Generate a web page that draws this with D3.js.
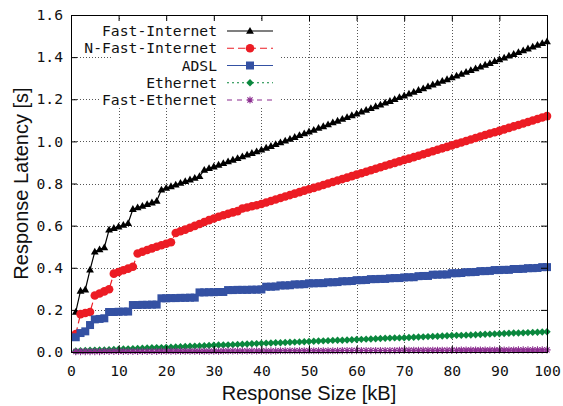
<!DOCTYPE html>
<html>
<head>
<meta charset="utf-8">
<script src="https://cdn.jsdelivr.net/npm/d3@7"></script>
<style>
  html, body { margin: 0; padding: 0; background: #fff; }
  svg { display: block; }
</style>
</head>
<body>
<script>
// Response size in kB (x values shared by every series)
const sizes = [
  1,2,3,4,5,6,7,8,9,10,11,12,13,14,15,16,17,18,19,20,
  21,22,23,24,25,26,27,28,29,30,31,32,33,34,35,36,37,38,39,40,
  41,42,43,44,45,46,47,48,49,50,51,52,53,54,55,56,57,58,59,60,
  61,62,63,64,65,66,67,68,69,70,71,72,73,74,75,76,77,78,79,80,
  81,82,83,84,85,86,87,88,89,90,91,92,93,94,95,96,97,98,99,100
];

// Response latency in seconds for each access network
const fastInternet = [
  0.190,0.290,0.296,0.390,0.476,0.486,0.496,0.580,0.588,0.595,
  0.603,0.611,0.678,0.686,0.693,0.701,0.709,0.717,0.770,0.778,
  0.786,0.794,0.802,0.810,0.818,0.826,0.834,0.864,0.872,0.880,
  0.888,0.896,0.904,0.912,0.920,0.928,0.936,0.944,0.952,0.960,
  0.969,0.977,0.986,0.994,1.003,1.011,1.020,1.029,1.037,1.046,
  1.054,1.063,1.071,1.080,1.089,1.097,1.106,1.114,1.123,1.131,
  1.140,1.149,1.157,1.166,1.174,1.183,1.191,1.200,1.209,1.217,
  1.226,1.234,1.243,1.251,1.260,1.269,1.277,1.286,1.294,1.303,
  1.311,1.320,1.329,1.337,1.346,1.354,1.363,1.371,1.380,1.389,
  1.397,1.406,1.414,1.423,1.431,1.440,1.449,1.457,1.466,1.474
];

const nFastInternet = [
  0.085,0.180,0.185,0.190,0.268,0.278,0.288,0.298,0.372,0.380,
  0.388,0.396,0.405,0.468,0.476,0.484,0.492,0.500,0.507,0.514,
  0.521,0.565,0.573,0.581,0.590,0.599,0.608,0.617,0.626,0.634,
  0.642,0.649,0.656,0.663,0.669,0.681,0.686,0.692,0.697,0.703,
  0.710,0.717,0.724,0.731,0.738,0.745,0.752,0.759,0.766,0.773,
  0.779,0.786,0.793,0.800,0.807,0.814,0.821,0.828,0.835,0.842,
  0.849,0.856,0.863,0.870,0.877,0.884,0.891,0.898,0.905,0.912,
  0.918,0.925,0.932,0.939,0.946,0.953,0.960,0.967,0.974,0.981,
  0.988,0.995,1.002,1.009,1.016,1.023,1.030,1.037,1.043,1.050,
  1.057,1.064,1.071,1.078,1.085,1.092,1.099,1.106,1.113,1.120
];

const adsl = [
  0.070,0.090,0.098,0.128,0.155,0.157,0.160,0.190,0.190,0.191,
  0.192,0.192,0.223,0.223,0.224,0.224,0.225,0.225,0.255,0.255,
  0.256,0.256,0.257,0.257,0.258,0.258,0.283,0.283,0.284,0.284,
  0.285,0.285,0.294,0.294,0.295,0.295,0.295,0.296,0.296,0.297,
  0.310,0.310,0.311,0.316,0.316,0.317,0.321,0.321,0.322,0.326,
  0.326,0.327,0.327,0.331,0.331,0.332,0.336,0.336,0.337,0.341,
  0.341,0.342,0.346,0.346,0.347,0.347,0.350,0.351,0.351,0.354,
  0.355,0.355,0.360,0.361,0.361,0.367,0.367,0.368,0.368,0.374,
  0.374,0.375,0.379,0.379,0.380,0.384,0.384,0.385,0.389,0.389,
  0.390,0.390,0.394,0.394,0.395,0.398,0.398,0.399,0.403,0.403
];

const ethernet = [
  0.005,0.006,0.007,0.008,0.009,0.010,0.010,0.011,0.012,0.013,
  0.014,0.015,0.016,0.017,0.018,0.019,0.020,0.021,0.021,0.022,
  0.023,0.024,0.025,0.026,0.027,0.028,0.029,0.030,0.031,0.032,
  0.033,0.033,0.034,0.035,0.036,0.037,0.038,0.039,0.040,0.041,
  0.042,0.043,0.044,0.044,0.045,0.046,0.047,0.048,0.049,0.050,
  0.051,0.052,0.053,0.054,0.055,0.056,0.056,0.057,0.058,0.059,
  0.060,0.061,0.062,0.063,0.064,0.065,0.066,0.067,0.067,0.068,
  0.069,0.070,0.071,0.072,0.073,0.074,0.075,0.076,0.077,0.078,
  0.079,0.079,0.080,0.081,0.082,0.083,0.084,0.085,0.086,0.087,
  0.088,0.089,0.090,0.090,0.091,0.092,0.093,0.094,0.095,0.096
];

const fastEthernet = [
  0.002,0.002,0.002,0.002,0.002,0.002,0.003,0.003,0.003,0.003,
  0.003,0.003,0.003,0.003,0.003,0.003,0.003,0.003,0.004,0.004,
  0.004,0.004,0.004,0.004,0.004,0.004,0.004,0.004,0.004,0.004,
  0.004,0.005,0.005,0.005,0.005,0.005,0.005,0.005,0.005,0.005,
  0.005,0.005,0.005,0.006,0.006,0.006,0.006,0.006,0.006,0.006,
  0.006,0.006,0.006,0.006,0.006,0.006,0.007,0.007,0.007,0.007,
  0.007,0.007,0.007,0.007,0.007,0.007,0.007,0.007,0.008,0.008,
  0.008,0.008,0.008,0.008,0.008,0.008,0.008,0.008,0.008,0.008,
  0.008,0.009,0.009,0.009,0.009,0.009,0.009,0.009,0.009,0.009,
  0.009,0.009,0.009,0.010,0.010,0.010,0.010,0.010,0.010,0.010
];

const seriesNames = ["Fast-Internet", "N-Fast-Internet", "ADSL", "Ethernet", "Fast-Ethernet"];
const xTicks = [0, 10, 20, 30, 40, 50, 60, 70, 80, 90, 100];
const yTicks = [0, 0.2, 0.4, 0.6, 0.8, 1.0, 1.2, 1.4, 1.6];

// Drawing styles per series
const styles = [
  { color: "#000000", dash: null,   marker: "triangle", size: 3.9 },
  { color: "#ec1c24", dash: "7,4",  marker: "circle",   size: 4.3 },
  { color: "#3451a3", dash: null,   marker: "square",   size: 4.0 },
  { color: "#0a873d", dash: "2,3",  marker: "diamond",  size: 3.7 },
  { color: "#8b2c8f", dash: "5,5",  marker: "asterisk", size: 3.6 }
];

const series = [fastInternet, nFastInternet, adsl, ethernet, fastEthernet].map((vals, i) => ({
  name: seriesNames[i],
  points: sizes.map((s, j) => [s, vals[j]]),
  style: styles[i]
}));

const W = 563, H = 406;
const plot = { left: 71, right: 547, top: 15, bottom: 352 };

const x = d3.scaleLinear().domain([0, 100]).range([plot.left, plot.right]);
const y = d3.scaleLinear().domain([0, 1.6]).range([plot.bottom, plot.top]);

const svg = d3.select("body").append("svg").attr("width", W).attr("height", H);

const monoFont = "'DejaVu Sans Mono', monospace";
const sansFont = "'Liberation Sans', Arial, sans-serif";

// Dotted grid
const grid = svg.append("g").attr("stroke", "#555").attr("stroke-width", 1)
  .attr("stroke-dasharray", "1,2").attr("shape-rendering", "crispEdges");
grid.selectAll("line.gx").data(xTicks.slice(1, -1)).join("line")
  .attr("x1", d => Math.round(x(d)) + 0.5).attr("x2", d => Math.round(x(d)) + 0.5)
  .attr("y1", plot.top).attr("y2", plot.bottom);
grid.selectAll("line.gy").data(yTicks.slice(1, -1)).join("line")
  .attr("y1", d => Math.round(y(d)) + 0.5).attr("y2", d => Math.round(y(d)) + 0.5)
  .attr("x1", plot.left).attr("x2", plot.right);

// Opaque key background
const keyBg = svg.append("g").attr("fill", "#fff");
keyBg.append("rect").attr("x", 113).attr("y", 20).attr("width", 167).attr("height", 88);
keyBg.append("rect").attr("x", 100).attr("y", 91).attr("width", 14).attr("height", 17);

// Marker shapes
function markerPath(type, s) {
  switch (type) {
    case "triangle":
      return `M0,${-s * 1.05}L${s},${s * 0.7}L${-s},${s * 0.7}Z`;
    case "circle":
      return d3.arc()({ innerRadius: 0, outerRadius: s, startAngle: 0, endAngle: 2 * Math.PI });
    case "square":
      return `M${-s},${-s}H${s}V${s}H${-s}Z`;
    case "diamond":
      return `M0,${-s}L${s},0L0,${s}L${-s},0Z`;
    case "asterisk": {
      const d = s * 0.72;
      return `M${-s},0H${s}M0,${-s}V${s}M${-d},${-d}L${d},${d}M${-d},${d}L${d},${-d}`;
    }
  }
}

function drawMarker(sel, st) {
  const isStroke = st.marker === "asterisk";
  sel.attr("d", markerPath(st.marker, st.size))
    .attr("fill", isStroke ? "none" : st.color)
    .attr("stroke", isStroke ? st.color : "none")
    .attr("stroke-width", isStroke ? 1.1 : 0);
}

const line = d3.line().x(d => x(d[0])).y(d => y(d[1]));

// Series lines and points
const seriesG = svg.append("g");
series.forEach(s => {
  const g = seriesG.append("g");
  g.append("path").datum(s.points)
    .attr("d", line)
    .attr("fill", "none")
    .attr("stroke", s.style.color)
    .attr("stroke-width", 1.2)
    .attr("stroke-dasharray", s.style.dash);
  g.selectAll("path.pt").data(s.points).join("path")
    .attr("class", "pt")
    .attr("transform", d => `translate(${x(d[0])},${y(d[1])})`)
    .call(drawMarker, s.style);
});

// Axes with inward ticks on all four sides
function styleAxis(g) {
  g.select(".domain").remove();
  g.selectAll(".tick line").attr("stroke", "#000").attr("stroke-width", 1);
  g.selectAll(".tick text").attr("font-family", monoFont).attr("font-size", "14.7px").attr("fill", "#111");
}

svg.append("g").attr("transform", `translate(0,${plot.bottom})`)
  .call(d3.axisBottom(x).tickValues(xTicks).tickFormat(d3.format("d"))
    .tickSizeInner(-6).tickSizeOuter(0).tickPadding(14))
  .call(styleAxis);
svg.append("g").attr("transform", `translate(0,${plot.top})`)
  .call(d3.axisTop(x).tickValues(xTicks).tickFormat("").tickSizeInner(-6).tickSizeOuter(0))
  .call(styleAxis);
svg.append("g").attr("transform", `translate(${plot.left},0)`)
  .call(d3.axisLeft(y).tickValues(yTicks).tickFormat(d3.format(".1f"))
    .tickSizeInner(-6).tickSizeOuter(0).tickPadding(8))
  .call(styleAxis);
svg.append("g").attr("transform", `translate(${plot.right},0)`)
  .call(d3.axisRight(y).tickValues(yTicks).tickFormat("").tickSizeInner(-6).tickSizeOuter(0))
  .call(styleAxis);

// Plot border
svg.append("rect")
  .attr("x", plot.left + 0.5).attr("y", plot.top + 0.5)
  .attr("width", plot.right - plot.left).attr("height", plot.bottom - plot.top)
  .attr("fill", "none").attr("stroke", "#000").attr("stroke-width", 1.1)
  .attr("shape-rendering", "crispEdges");

// Axis titles
svg.append("text")
  .attr("x", (plot.left + plot.right) / 2).attr("y", 400)
  .attr("text-anchor", "middle")
  .attr("font-family", sansFont).attr("font-size", "20px").attr("fill", "#111")
  .text("Response Size [kB]");
svg.append("text")
  .attr("transform", `translate(28,${(plot.top + plot.bottom) / 2}) rotate(-90)`)
  .attr("text-anchor", "middle")
  .attr("font-family", sansFont).attr("font-size", "20px").attr("fill", "#111")
  .text("Response Latency [s]");

// Key
const key = svg.append("g");
series.forEach((s, i) => {
  const cy = 31 + i * 17.25;
  key.append("text")
    .attr("x", 217).attr("y", cy).attr("dy", "0.35em")
    .attr("text-anchor", "end")
    .attr("font-family", monoFont).attr("font-size", "14.7px").attr("fill", "#111")
    .text(s.name);
  key.append("line")
    .attr("x1", 227).attr("x2", 273).attr("y1", cy).attr("y2", cy)
    .attr("stroke", s.style.color).attr("stroke-width", 1.2)
    .attr("stroke-dasharray", s.style.dash);
  key.append("path")
    .attr("transform", `translate(250,${cy})`)
    .call(drawMarker, s.style);
});
</script>
</body>
</html>
